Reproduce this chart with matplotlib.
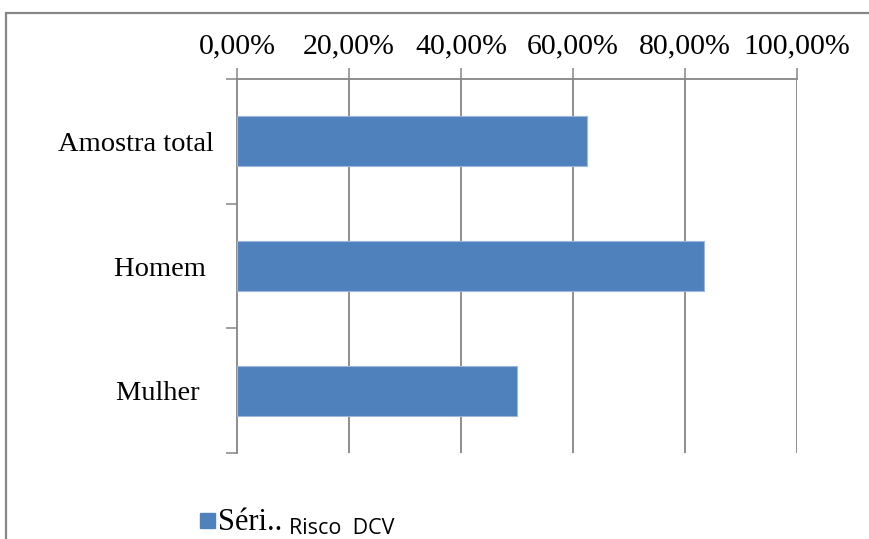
import matplotlib
matplotlib.use('Agg')
import matplotlib.pyplot as plt
from matplotlib.patches import Rectangle
from matplotlib.ticker import FuncFormatter, FixedLocator

categorias = ['Amostra total', 'Homem', 'Mulher']
rotulos = ['Amostra total', 'Homem ', 'Mulher  ']
valores = [62.5, 83.4, 50.0]
xticks = [0, 20, 40, 60, 80, 100]
serie = 'Séri..'
titulo_serie = 'Risco  DCV'

azul = '#4F81BD'
cinza = '#868686'
W, H = 869, 539

plt.rcParams['font.family'] = ['Liberation Serif', 'DejaVu Serif']

fig = plt.figure(figsize=(W / 100, H / 100), dpi=100)

# moldura do grafico (recortada a direita e embaixo)
fig.patches.append(Rectangle((6 / W, -0.1), 2.0, (H - 13) / H + 0.1,
                             transform=fig.transFigure, fill=False,
                             edgecolor=cinza, linewidth=1.6))

ax = fig.add_axes([237 / W, 1 - 453 / H, 560 / W, 374 / H])

ypos = range(len(categorias))
ax.barh(ypos, valores, height=0.4, color=azul, edgecolor='#9DB6D9', linewidth=0.8, zorder=3)

ax.set_xlim(0, 100)
ax.set_ylim(2.5, -0.5)

ax.xaxis.tick_top()
ax.set_xticks(xticks)
ax.xaxis.set_major_formatter(FuncFormatter(lambda v, p: ('%.2f%%' % v).replace('.', ',')))
ax.tick_params(axis='x', length=8, width=1.1, color=cinza, labelsize=21.5, pad=6)

ax.set_yticks(list(ypos))
ax.set_yticklabels(rotulos)
ax.yaxis.set_minor_locator(FixedLocator([-0.5, 0.5, 1.5, 2.5]))
ax.tick_params(axis='y', which='major', length=0, labelsize=20.5, pad=17)
ax.tick_params(axis='y', which='minor', length=8, width=1.1, color=cinza)

for v in xticks[1:]:
    ax.axvline(v, color=cinza, linewidth=1.3, zorder=1)

for s in ['right', 'bottom']:
    ax.spines[s].set_visible(False)
for s in ['top', 'left']:
    ax.spines[s].set_color(cinza)
    ax.spines[s].set_linewidth(1.3)

# legenda
fig.patches.append(Rectangle((200 / W, 1 - 528 / H), 15 / W, 15 / H,
                             transform=fig.transFigure, color=azul))
fig.text(218 / W, 1 - 530 / H, serie, fontsize=22, va='baseline')
fig.text(289 / W, 1 - 534 / H, titulo_serie, fontsize=15.5, va='baseline',
         family=['Open Sans', 'DejaVu Sans'])

fig.savefig('out.png', dpi=100)
